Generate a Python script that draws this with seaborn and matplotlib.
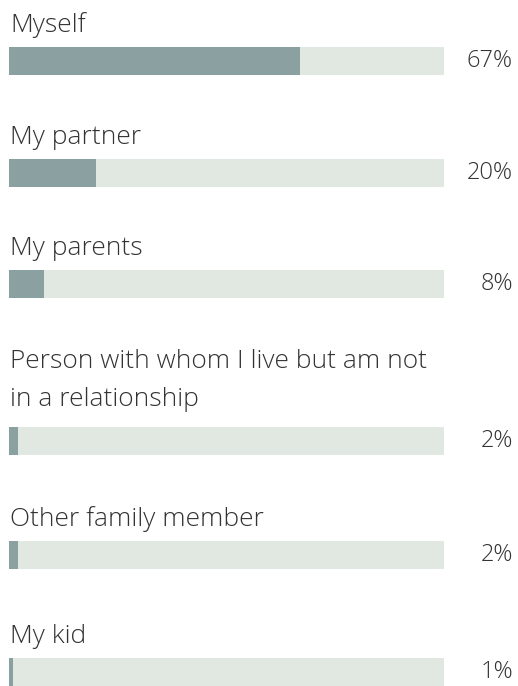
import matplotlib
matplotlib.use("Agg")
import matplotlib.pyplot as plt
import seaborn as sns
import pandas as pd

# Survey answers and shares (%)
categories = [
    "Myself",
    "My partner",
    "My parents",
    "Person with whom I live but am not\nin a relationship",
    "Other family member",
    "My kid",
]
shares = [67, 20, 8, 2, 2, 1]
share_labels = ["67%", "20%", "8%", "2%", "2%", "1%"]

FILL = "#8aa0a1"
TRACK = "#e1e8e2"
TEXT = "#333333"

sns.set_theme(style="white")
plt.rcParams["font.family"] = ["Open Sans", "DejaVu Sans"]

W, H = 518, 686
fig = plt.figure(figsize=(W / 100, H / 100), dpi=100)
fig.patch.set_facecolor("white")

# Row layout in pixels: top edge of each bar track
bar_tops = [47, 159, 270, 427, 541, 658]
bar_h = 28
left, right = 9, 444
line_gap = 38

for cat, val, lab, top in zip(categories, shares, share_labels, bar_tops):
    ax = fig.add_axes([left / W, 1 - (top + bar_h) / H, (right - left) / W, bar_h / H])
    df = pd.DataFrame({"row": [cat], "value": [val], "track": [100]})
    sns.barplot(data=df, x="track", y="row", orient="h", color=TRACK,
                width=1.0, saturation=1, linewidth=0, ax=ax)
    sns.barplot(data=df, x="value", y="row", orient="h", color=FILL,
                width=1.0, saturation=1, linewidth=0, ax=ax)
    ax.set_xlim(0, 100)
    ax.set_ylim(0.5, -0.5)
    ax.axis("off")

    # category label above the bar, one text per line
    lines = cat.split("\n")
    base_gap = 15 if len(lines) == 1 else 21
    for k, line in enumerate(reversed(lines)):
        ax.text(0.003, 1.0 + (base_gap + line_gap * k) / bar_h, line,
                transform=ax.transAxes, ha="left", va="baseline",
                fontsize=19, color=TEXT, fontweight="light")
    # value label to the right
    ax.text((513 - left) / (right - left), 0.5, lab, transform=ax.transAxes,
            ha="right", va="center", fontsize=17, color=TEXT, fontweight="light")

fig.savefig("out.png", dpi=100, facecolor="white")
